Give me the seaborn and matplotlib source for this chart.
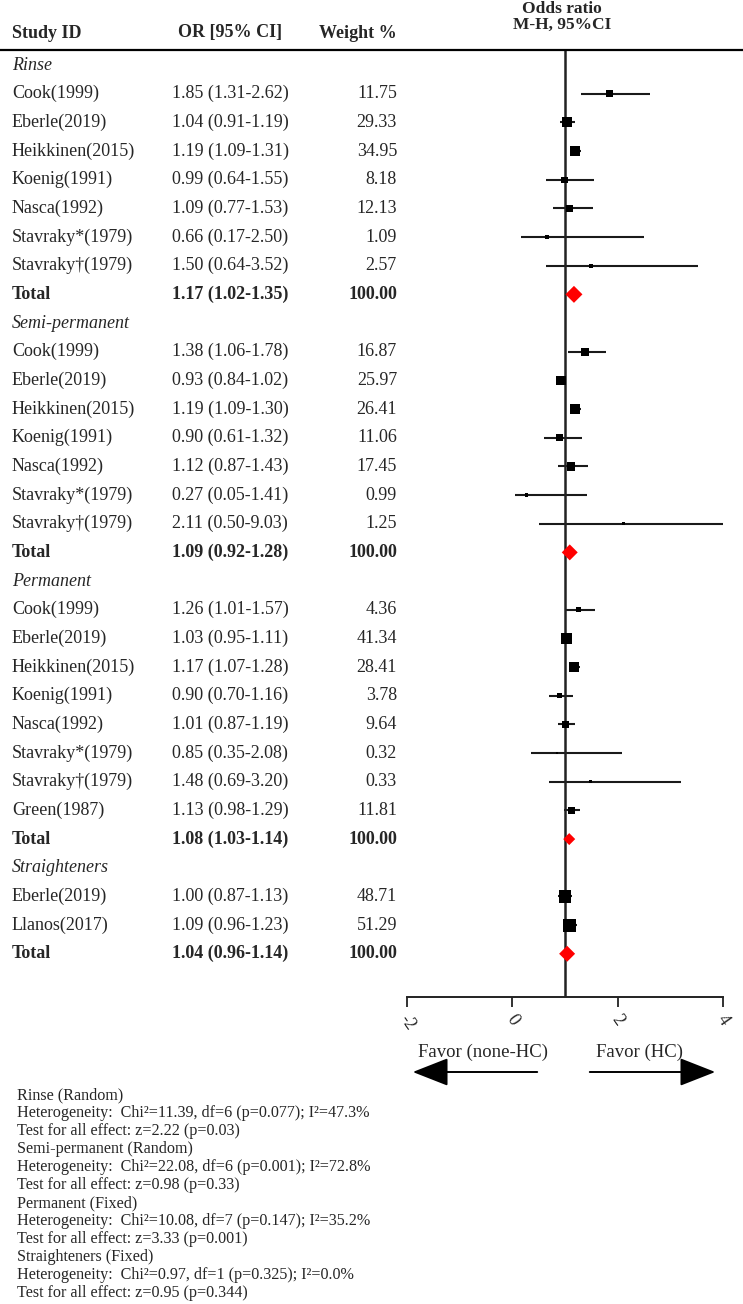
import matplotlib
matplotlib.use("Agg")
import matplotlib.pyplot as plt
from matplotlib.transforms import blended_transform_factory
from matplotlib.patches import FancyArrowPatch
import seaborn as sns
import numpy as np
import pandas as pd

# ---- data ----
groups = ["Rinse", "Semi-permanent", "Permanent", "Straighteners"]

rinse_study = ["Cook(1999)", "Eberle(2019)", "Heikkinen(2015)", "Koenig(1991)",
               "Nasca(1992)", "Stavraky*(1979)", "Stavraky\u2020(1979)"]
rinse_or = [1.85, 1.04, 1.19, 0.99, 1.09, 0.66, 1.50]
rinse_lo = [1.31, 0.91, 1.09, 0.64, 0.77, 0.17, 0.64]
rinse_hi = [2.62, 1.19, 1.31, 1.55, 1.53, 2.50, 3.52]
rinse_w = [11.75, 29.33, 34.95, 8.18, 12.13, 1.09, 2.57]

semi_study = ["Cook(1999)", "Eberle(2019)", "Heikkinen(2015)", "Koenig(1991)",
              "Nasca(1992)", "Stavraky*(1979)", "Stavraky\u2020(1979)"]
semi_or = [1.38, 0.93, 1.19, 0.90, 1.12, 0.27, 2.11]
semi_lo = [1.06, 0.84, 1.09, 0.61, 0.87, 0.05, 0.50]
semi_hi = [1.78, 1.02, 1.30, 1.32, 1.43, 1.41, 9.03]
semi_w = [16.87, 25.97, 26.41, 11.06, 17.45, 0.99, 1.25]

perm_study = ["Cook(1999)", "Eberle(2019)", "Heikkinen(2015)", "Koenig(1991)",
              "Nasca(1992)", "Stavraky*(1979)", "Stavraky\u2020(1979)", "Green(1987)"]
perm_or = [1.26, 1.03, 1.17, 0.90, 1.01, 0.85, 1.48, 1.13]
perm_lo = [1.01, 0.95, 1.07, 0.70, 0.87, 0.35, 0.69, 0.98]
perm_hi = [1.57, 1.11, 1.28, 1.16, 1.19, 2.08, 3.20, 1.29]
perm_w = [4.36, 41.34, 28.41, 3.78, 9.64, 0.32, 0.33, 11.81]

straight_study = ["Eberle(2019)", "Llanos(2017)"]
straight_or = [1.00, 1.09]
straight_lo = [0.87, 0.96]
straight_hi = [1.13, 1.23]
straight_w = [48.71, 51.29]

total_or = [1.17, 1.09, 1.08, 1.04]
total_lo = [1.02, 0.92, 1.03, 0.96]
total_hi = [1.35, 1.28, 1.14, 1.14]

x_ticks = [-2, 0, 2, 4]
x_ticklabels = ["-2", "0", "2", "4"]

footnote = [
    "Rinse (Random)",
    "Heterogeneity:  Chi\u00b2=11.39, df=6 (p=0.077); I\u00b2=47.3%",
    "Test for all effect: z=2.22 (p=0.03)",
    "Semi-permanent (Random)",
    "Heterogeneity:  Chi\u00b2=22.08, df=6 (p=0.001); I\u00b2=72.8%",
    "Test for all effect: z=0.98 (p=0.33)",
    "Permanent (Fixed)",
    "Heterogeneity:  Chi\u00b2=10.08, df=7 (p=0.147); I\u00b2=35.2%",
    "Test for all effect: z=3.33 (p=0.001)",
    "Straighteners (Fixed)",
    "Heterogeneity:  Chi\u00b2=0.97, df=1 (p=0.325); I\u00b2=0.0%",
    "Test for all effect: z=0.95 (p=0.344)",
]

# ---- build long table: group header, studies, total ----
study_sets = [
    (rinse_study, rinse_or, rinse_lo, rinse_hi, rinse_w),
    (semi_study, semi_or, semi_lo, semi_hi, semi_w),
    (perm_study, perm_or, perm_lo, perm_hi, perm_w),
    (straight_study, straight_or, straight_lo, straight_hi, straight_w),
]
recs = []
row = 0
for g, (names, ors, los, his, ws) in enumerate(study_sets):
    recs.append(dict(row=row, kind="group", label=groups[g], OR=np.nan, lo=np.nan, hi=np.nan, w=np.nan))
    row += 1
    for n, o, l, h, w in zip(names, ors, los, his, ws):
        recs.append(dict(row=row, kind="study", label=n, OR=o, lo=l, hi=h, w=w))
        row += 1
    recs.append(dict(row=row, kind="total", label="Total", OR=total_or[g], lo=total_lo[g],
                     hi=total_hi[g], w=100.0))
    row += 1
df = pd.DataFrame(recs)
studies = df[df.kind == "study"].copy()
totals = df[df.kind == "total"].copy()
diamond_px = [17, 16, 12, 16]

# ---- layout (pixels of a 743x1304 canvas) ----
W, H = 743, 1304
row0_px, step_px = 65, 28.67
top_px, axis_px = 50, 997
x_left_px, x_right_px = 407, 723

sns.set_theme(style="white")
plt.rcParams["font.family"] = ["Liberation Serif", "DejaVu Serif"]

fig = plt.figure(figsize=(W / 100, H / 100), dpi=100)
ax = fig.add_axes([x_left_px / W, 1 - axis_px / H,
                   (x_right_px - x_left_px) / W, (axis_px - top_px) / H])
ax.set_xlim(-2, 4)
ax.set_ylim((axis_px - row0_px) / step_px, (top_px - row0_px) / step_px)

px2pt = 0.72
# confidence interval lines
ax.hlines(studies["row"], studies["lo"], studies["hi"], color="#1a1a1a", lw=1.5)
# study squares, size grows with weight
studies["side"] = (1.8 + 1.55 * np.sqrt(studies["w"])) * px2pt
sns.scatterplot(data=studies, x="OR", y="row", marker="s", color="black",
                s=studies["side"] ** 2, linewidth=0, ax=ax, legend=False, zorder=3)
# pooled diamonds
totals["dsize"] = (np.array(diamond_px) / np.sqrt(2) * px2pt) ** 2
sns.scatterplot(data=totals, x="OR", y="row", marker="D", color="#ff0000",
                s=totals["dsize"], linewidth=0, ax=ax, legend=False, zorder=4)
ax.axvline(1, color="#222222", lw=1.8, zorder=2)

ax.set_xlabel("")
ax.set_ylabel("")
ax.set_yticks([])
ax.set_xticks(x_ticks)
ax.set_xticklabels(x_ticklabels, rotation=-55, fontsize=13)
ax.tick_params(axis="x", direction="out", length=7.5, width=1.3, color="#222222", pad=3, bottom=True)
for s in ["top", "left", "right"]:
    ax.spines[s].set_visible(False)
ax.spines["bottom"].set_linewidth(1.4)
ax.spines["bottom"].set_color("#222222")

# header rule across the full width
hdr = blended_transform_factory(fig.transFigure, ax.transAxes)
ax.plot([0, 1], [1, 1], transform=hdr, color="black", lw=1.6, clip_on=False)

# ---- table text ----
tt = blended_transform_factory(fig.transFigure, ax.transData)
fs = 13
for _, r in df.iterrows():
    if r.kind == "group":
        ax.text(12 / W, r.row, r.label, transform=tt, fontsize=fs, style="italic", va="center")
        continue
    weight = "bold" if r.kind == "total" else "normal"
    ax.text(12 / W, r.row, r.label, transform=tt, fontsize=fs, weight=weight, va="center")
    ax.text(172 / W, r.row, f"{r.OR:.2f} ({r.lo:.2f}-{r.hi:.2f})", transform=tt,
            fontsize=fs, weight=weight, va="center")
    ax.text(397 / W, r.row, f"{r.w:.2f}", transform=tt, fontsize=fs, weight=weight,
            va="center", ha="right")

def fy(p):
    return 1 - p / H

fig.text(12 / W, fy(33), "Study ID", fontsize=fs, weight="bold", va="center")
fig.text(230 / W, fy(33), "OR [95% CI]", fontsize=fs, weight="bold", va="center", ha="center")
fig.text(397 / W, fy(33), "Weight %", fontsize=fs, weight="bold", va="center", ha="right")
fig.text(562 / W, fy(9), "Odds ratio", fontsize=12.5, weight="bold", va="center", ha="center")
fig.text(562 / W, fy(25), "M-H, 95%CI", fontsize=12.5, weight="bold", va="center", ha="center")

# favour labels and arrows
fig.text(483 / W, fy(1052), "Favor (none-HC)", fontsize=13.5, va="center", ha="center")
fig.text(639 / W, fy(1052), "Favor (HC)", fontsize=13.5, va="center", ha="center")
for x0, x1 in [(540, 410), (587, 718)]:
    fig.add_artist(FancyArrowPatch((x0 / W, fy(1072)), (x1 / W, fy(1072)),
                                   transform=fig.transFigure, arrowstyle="-|>,head_length=1.4,head_width=0.55",
                                   mutation_scale=16, lw=1.4, color="black"))

for i, line in enumerate(footnote):
    fig.text(17 / W, fy(1095 + 18 * i), line, fontsize=11.6, va="center")

fig.savefig("out.png", dpi=100)
